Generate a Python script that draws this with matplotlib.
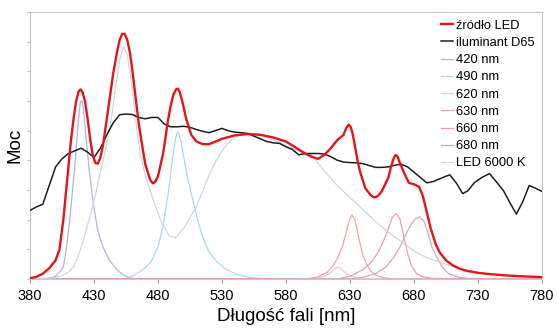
import matplotlib
matplotlib.use("Agg")
from matplotlib import pyplot as plt
import numpy as np

plt.rcParams['font.family'] = ['Liberation Sans', 'DejaVu Sans']

# zrodlo LED (nm, moc)
led_nm = [380, 385, 390, 395, 400, 403, 406, 409, 412, 414, 416, 418, 419.5, 421, 423, 425, 427, 429, 431, 433,
          435, 437, 440, 445, 448, 450, 452, 454, 456, 458, 460, 465, 470, 472, 474, 476, 478, 480, 484,
          488, 490, 492, 494, 495.5, 497, 499, 502, 506, 510, 515, 520, 525, 530, 540, 550, 560, 570, 580,
          590, 595, 600, 605, 610, 615, 620, 625, 627, 629, 630.5, 632, 634, 636, 638, 642, 646, 648, 650,
          652, 655, 660, 662, 664, 665.5, 667, 669, 672, 676, 680, 684, 687, 690, 693, 697, 700, 705,
          710, 715, 720, 730, 740, 750, 760, 770, 780]
led_val = [0.3, 0.8, 2, 4, 7, 11, 22, 37, 52, 60, 66.5, 70.3, 71, 70, 66.5, 60, 52.5, 46.5, 43.5, 43.2,
           45.5, 50, 60, 77, 85, 89.5, 91.8, 91.8, 89.5, 85, 78, 58, 43, 40, 37, 35.8, 36.5, 38.5, 47,
           60, 65, 69, 71, 71.3, 70, 66.5, 60, 54, 51.5, 50.5, 50.5, 51.5, 52.5, 53.8, 54.3, 54, 53, 51.5,
           48.5, 47, 45.8, 45, 46.5, 49, 52, 54, 56.5, 57.8, 57, 54.5, 49.5, 44, 40, 34, 31.5, 30.7, 30.6,
           31.2, 33, 38, 42, 45, 46.4, 46, 43.5, 40, 36, 35.5, 34.5, 31, 25, 19, 13, 10, 7,
           5.2, 4, 3.2, 2.3, 1.8, 1.4, 1.1, 0.9, 0.7]

# iluminant D65
d65_nm = [380, 385, 390, 395, 400, 405, 410, 415, 420, 425, 430, 435, 440, 445, 450, 455, 460, 465, 470,
          475, 480, 485, 490, 495, 500, 505, 510, 515, 520, 525, 530, 535, 540, 545, 550, 555, 560, 565,
          570, 575, 580, 585, 590, 595, 600, 605, 610, 615, 620, 625, 630, 635, 640, 645, 650, 655, 660,
          665, 670, 675, 680, 685, 690, 695, 700, 705, 708, 713, 718, 722, 727, 733, 739, 745, 750, 755,
          760, 765, 770, 775, 780]
d65_val = [25.7, 27, 28, 35, 42, 45, 47, 48, 49, 47.5, 45.5, 49, 54, 58.5, 61.5, 61.8, 61.6, 60.5, 60,
           60.5, 60.5, 58, 57, 57, 57.2, 56.8, 56, 55.3, 54.8, 55.6, 56.4, 55.5, 55, 54.8, 54.5, 53.5, 52.5, 51.5,
           51, 50.8, 49.5, 48.5, 46.5, 47, 47, 47, 46.8, 45.8, 44.5, 43.8, 43.6, 43.5, 43.2, 42.5, 41.8, 41.8, 42,
           42.6, 43, 42, 40, 38, 36, 36.5, 37.5, 38.5, 39, 36, 32, 33, 36, 38, 39.5, 36, 33, 28.5,
           24.3, 29, 35, 34, 32.8]

# skladowe
c420_nm = [380, 395, 400, 403, 406, 408, 411, 413, 415, 417, 418.5, 419.5, 420.5, 421.5, 423, 426, 429.5, 433,
           437, 442, 448, 453, 458, 465, 780]
c420_val = [0, 0.3, 1, 2.5, 4.5, 10, 22, 32, 42, 55, 63, 66.5, 66.8, 64.5, 57, 42, 28, 18,
            12, 7, 3.4, 1.5, 0.4, 0, 0]

c490_nm = [380, 450, 455, 460, 465, 470, 475, 480, 484, 488, 491, 493.5, 494.5, 495.5, 496.5, 497.5, 500, 503,
           507, 511, 515, 520, 526, 532, 540, 550, 560, 780]
c490_val = [0, 0, 0.3, 1.2, 2.5, 4.2, 6.8, 12, 20, 32, 44, 52, 54.3, 55, 54.3, 52.5, 46, 38,
            30, 22, 15.5, 10, 6.5, 4, 2, 0.7, 0.2, 0]

c620_nm = [380, 600, 606, 611, 615, 618, 620.5, 623, 626, 630, 635, 640, 780]
c620_val = [0, 0, 0.5, 1.2, 2.5, 3.8, 4.5, 3.8, 2.5, 1.2, 0.5, 0.1, 0]

c630_nm = [380, 595, 605, 612, 616, 620, 624, 627, 629.5, 631.5, 634, 637, 640, 643, 646, 650, 656, 665, 780]
c630_val = [0, 0, 0.8, 2.5, 4.5, 7.5, 12, 17.5, 22, 24, 22, 15, 9, 5.5, 3, 1.5, 0.5, 0, 0]

c660_nm = [380, 620, 630, 640, 647, 652, 656, 660, 663, 666, 669, 672, 675, 678, 682, 687, 695, 780]
c660_val = [0, 0, 1, 3.5, 6.5, 10, 14, 19, 23, 24.6, 22.5, 16, 9.5, 5, 2, 0.8, 0.2, 0]

c680_nm = [380, 630, 640, 650, 658, 664, 669, 673, 677, 681, 684.5, 688, 691, 694, 698, 702, 707, 715, 725, 780]
c680_val = [0, 0, 0.6, 2, 4.5, 8, 12, 16, 20, 22.5, 23.3, 21.5, 17, 12, 8, 4.5, 2, 0.6, 0.1, 0]

c6000_nm = [380, 390, 400, 405, 410, 414, 418, 422, 426, 430, 434, 437, 440, 443, 447, 450, 453, 456, 460,
            463, 466, 470, 476, 482, 489, 494, 500, 505, 510, 515, 520, 525, 530, 535, 540, 545, 550, 555,
            560, 570, 580, 590, 600, 610, 620, 630, 640, 650, 660, 670, 680, 690, 700, 710, 720, 730, 740,
            760, 780]
c6000_val = [0, 0.1, 0.5, 1.2, 2.5, 4.5, 9, 15, 22, 29, 38, 44, 51, 58, 72, 82, 87, 84, 71,
             58, 47, 39, 30, 22, 16, 15.5, 19, 23, 27, 33, 39, 44, 48, 51, 53, 54, 54.5, 54.5,
             54, 52, 50, 48, 46.5, 40.5, 35, 30.5, 26, 21.5, 17.5, 14, 10.5, 8, 6.3, 4.7, 3.3, 2.5, 1.8,
             1, 0.6]

xticks = [380, 430, 480, 530, 580, 630, 680, 730, 780]

fig = plt.figure(figsize=(5.57, 3.29), dpi=100)
ax = fig.add_axes([30/557, 1-279/329, 512/557, 267/329])

ax.plot(led_nm, led_val, color='#e3151b', lw=1.7, label='źródło LED', zorder=5)
ax.plot(d65_nm, d65_val, color='#1e1e1e', lw=1.1, label='iluminant D65', zorder=4)
ax.plot(c420_nm, c420_val, color='#b9b3d6', lw=0.9, label='420 nm')
ax.plot(c490_nm, c490_val, color='#a6dbee', lw=0.9, label='490 nm')
ax.plot(c620_nm, c620_val, color='#f3c9c4', lw=0.9, label='620 nm')
ax.plot(c630_nm, c630_val, color='#f2a5a5', lw=0.9, label='630 nm')
ax.plot(c660_nm, c660_val, color='#ea9fb0', lw=0.9, label='660 nm')
ax.plot(c680_nm, c680_val, color='#dca4bb', lw=0.9, label='680 nm')
ax.plot(c6000_nm, c6000_val, color='#cdd8e3', lw=0.9, label='LED 6000 K')

ax.set_xlim(380, 780)
ax.set_ylim(0, 100)
ax.set_xticks(xticks)
ax.set_yticks(np.linspace(0, 100, 10))
ax.set_yticklabels([])
ax.tick_params(axis='x', labelsize=10.5, length=3, color='#999999', pad=4)
ax.tick_params(axis='y', length=2, color='#bbbbbb')
for s in ax.spines.values():
    s.set_color('#c8c8c8')
    s.set_linewidth(0.8)

ax.set_xlabel('Długość fali [nm]', fontsize=13.5, labelpad=4)
ax.set_ylabel('Moc', fontsize=13.5)
ax.yaxis.set_label_coords(-0.012, 0.5)

leg = ax.legend(loc='upper right', frameon=False, fontsize=9.3, handlelength=0.9,
                handletextpad=0.2, labelspacing=0.4, borderaxespad=0.2)

plt.savefig('out.png', dpi=100)
